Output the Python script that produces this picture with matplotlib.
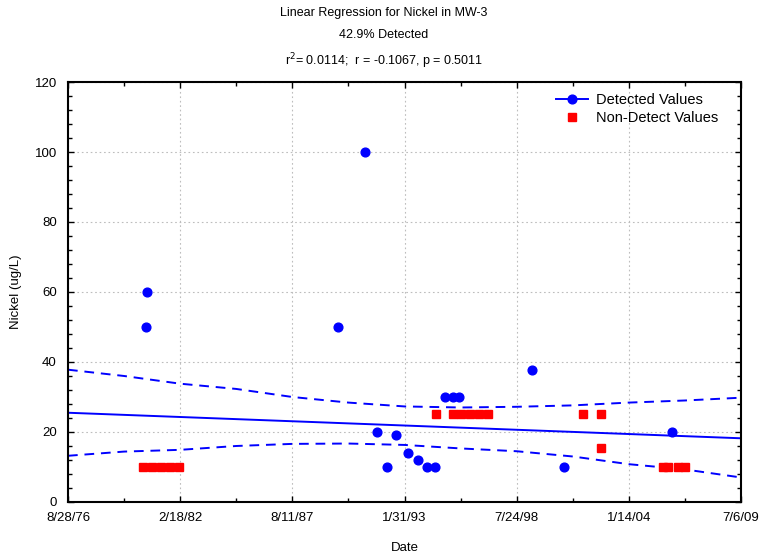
import matplotlib
matplotlib.use("Agg")
import matplotlib.pyplot as plt
from matplotlib.ticker import MultipleLocator
from matplotlib.lines import Line2D
import pandas as pd

plt.rcParams['font.family'] = ['Liberation Sans', 'DejaVu Sans']

# Detected nickel results (ug/L)
det_dates = ["1980-06-11", "1980-07-09", "1989-11-01", "1991-02-26", "1991-09-23",
             "1992-03-19", "1992-09-05", "1993-04-03", "1993-09-23", "1994-03-07",
             "1994-08-03", "1995-01-18", "1995-06-10", "1995-09-25", "1999-04-30",
             "2000-11-10", "2006-03-01"]
det_values = [50, 60, 50, 100, 20, 10, 19, 14, 12, 10, 10, 30, 30, 30, 37.7, 10, 20]

# Non-detect results plotted at the reporting limit (ug/L)
nd_dates = ["1980-05-04", "1980-09-26", "1981-03-18", "1981-08-22", "1982-01-26",
            "1994-08-07", "1995-06-10", "1995-11-05", "1996-04-13", "1996-09-21",
            "1997-03-06", "2001-10-26", "2002-09-01", "2002-09-01", "2005-09-11",
            "2005-12-07", "2006-06-11", "2006-10-14"]
nd_values = [10, 10, 10, 10, 10, 25, 25, 25, 25, 25, 25, 25, 25, 15.3, 10, 10, 10, 10]

# Regression fit and its confidence band
fit_dates = ["1976-08-28", "2009-07-06"]
fit_values = [25.5, 18.2]
band_dates = ["1976-08-28", "1979-05-25", "1982-02-18", "1984-11-14", "1987-08-11",
              "1990-05-07", "1993-01-31", "1995-10-28", "1998-07-24", "2001-04-19",
              "2004-01-14", "2006-10-10", "2009-07-06"]
band_upper = [37.8, 36.0, 33.8, 32.3, 30.0, 28.4, 27.3, 27.0, 27.2, 27.6, 28.4, 29.0, 29.8]
band_lower = [13.2, 14.4, 14.9, 16.0, 16.6, 16.7, 16.3, 15.3, 14.5, 13.0, 10.8, 9.3, 7.0]

tick_dates = ["1976-08-28", "1982-02-18", "1987-08-11", "1993-01-31",
              "1998-07-24", "2004-01-14", "2009-07-06"]
tick_labels = ["8/28/76", "2/18/82", "8/11/87", "1/31/93", "7/24/98", "1/14/04", "7/6/09"]
minor_dates = ["1979-05-25", "1984-11-14", "1990-05-07", "1995-10-28",
               "2001-04-19", "2006-10-10"]

to_dt = lambda s: pd.to_datetime(s)

fig = plt.figure(figsize=(7.63, 5.59), dpi=100)
ax = fig.add_axes([0.0891, 0.1020, 0.8821, 0.7513])

blue = "#0000ff"
red = "#ff0000"

ax.plot(to_dt(band_dates), band_upper, color=blue, lw=1.4, ls=(0, (5, 3.5)), zorder=2)
ax.plot(to_dt(band_dates), band_lower, color=blue, lw=1.4, ls=(0, (5, 3.5)), zorder=2)
ax.plot(to_dt(fit_dates), fit_values, color=blue, lw=1.4, zorder=2)

ax.plot(to_dt(det_dates), det_values, ls="none", marker="o", ms=6.3,
        color=blue, mec=blue, zorder=3)
ax.plot(to_dt(nd_dates), nd_values, ls="none", marker="s", ms=6.3,
        color=red, mec=red, zorder=3)

ax.set_xlim(to_dt("1976-08-28"), to_dt("2009-07-06"))
ax.set_ylim(0, 120)
ax.set_xticks(to_dt(tick_dates))
ax.set_xticklabels(tick_labels)
ax.set_xticks(to_dt(minor_dates), minor=True)
ax.yaxis.set_major_locator(MultipleLocator(20))
ax.yaxis.set_minor_locator(MultipleLocator(4))

ax.grid(True, which="major", color="#bdbdbd", ls=(0, (1.5, 2.5)), lw=0.8)
ax.set_axisbelow(True)

for s in ax.spines.values():
    s.set_linewidth(1.5)
    s.set_color("black")

ax.tick_params(which="both", direction="in", top=True, right=True,
               labelsize=9.5, width=1.0, colors="black")
ax.tick_params(which="major", length=4)
ax.tick_params(which="minor", length=3)
ax.tick_params(axis="x", which="major", pad=7)
ax.tick_params(axis="y", which="major", pad=8)

ax.set_xlabel("Date", fontsize=9.5, labelpad=13)
ax.set_ylabel("Nickel (ug/L)", fontsize=9.5, labelpad=9)

fig.text(0.503, 0.977, "Linear Regression for Nickel in MW-3", ha="center", va="center", fontsize=9)
fig.text(0.503, 0.938, "42.9% Detected", ha="center", va="center", fontsize=9)
fig.text(0.503, 0.891, r"r$^2$= 0.0114;  r = -0.1067, p = 0.5011", ha="center", va="center", fontsize=9)

handles = [Line2D([], [], color=blue, lw=1.4, marker="o", ms=6.3),
           Line2D([], [], ls="none", color=red, marker="s", ms=6.3)]
ax.legend(handles, ["Detected Values", "Non-Detect Values"], loc="upper right",
          bbox_to_anchor=(0.985, 1.005), frameon=False, fontsize=10.5,
          handlelength=2.2, handletextpad=0.5, labelspacing=0.3)

fig.savefig("out.png", dpi=100)
